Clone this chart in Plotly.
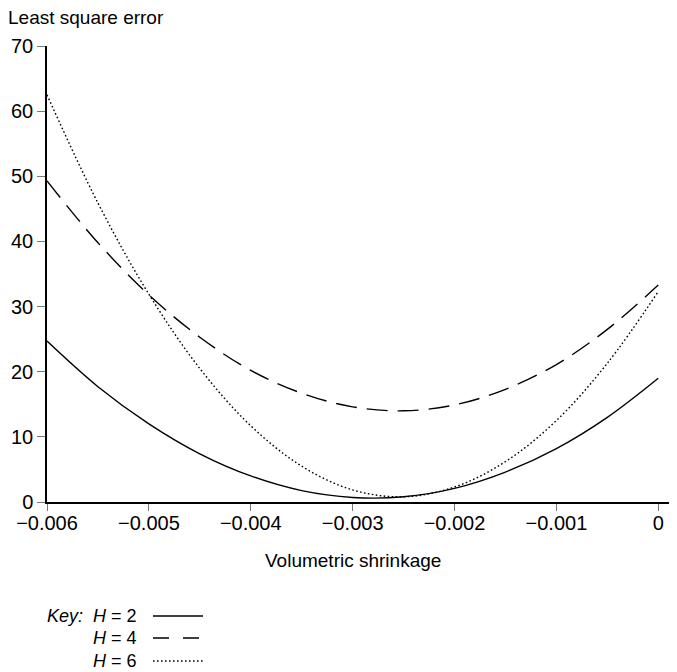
import plotly.graph_objects as go

# Data
shrinkage = [-0.006, -0.0055, -0.005, -0.0045, -0.004, -0.0035, -0.003,
             -0.0025, -0.002, -0.0015, -0.001, -0.0005, 0.0]
err_h2 = [24.7, 17.7, 12.0, 7.4, 4.0, 1.75, 0.7, 0.8, 2.1, 4.6, 8.2, 13.0, 19.0]
err_h4 = [49.3, 39.8, 31.8, 25.3, 20.2, 16.7, 14.6, 14.0, 14.9, 17.3, 21.1, 26.5, 33.3]
err_h6 = [62.5, 45.9, 31.9, 20.5, 11.7, 5.5, 1.85, 0.8, 2.3, 6.2, 12.5, 21.3, 32.3]

x_ticks = [-0.006, -0.005, -0.004, -0.003, -0.002, -0.001, 0]
x_ticklabels = ["−0.006", "−0.005", "−0.004", "−0.003", "−0.002", "−0.001", "0"]
y_ticks = [0, 10, 20, 30, 40, 50, 60, 70]

series = [
    ("H = 2", err_h2, "solid"),
    ("H = 4", err_h4, "21px,10px"),
    ("H = 6", err_h6, "1.6px,2.4px"),
]

FONT = "Liberation Sans, Arial, sans-serif"

# page body adds an 8px offset; compensate
W, H = 669, 664
L, T, B, R = 39, 38, 170, 0

fig = go.Figure()
for name, vals, dash in series:
    fig.add_trace(go.Scatter(
        x=shrinkage, y=vals, mode="lines", name=name,
        line=dict(color="black", width=1.4, dash=dash, shape="spline", smoothing=1.0),
        showlegend=False,
    ))

fig.update_layout(
    width=W, height=H,
    margin=dict(l=L, r=R, t=T, b=B),
    paper_bgcolor="white", plot_bgcolor="white",
    font=dict(family=FONT, size=20, color="black"),
)
fig.update_xaxes(
    range=[-0.006, 0.000184], tickvals=x_ticks, ticktext=x_ticklabels,
    showgrid=False, zeroline=False, showline=True, linecolor="black", linewidth=1.5,
    ticks="outside", ticklen=7, tickcolor="#777", tickwidth=1.2,
    tickfont=dict(family=FONT, size=20), ticklabelstandoff=-5,
)
fig.update_yaxes(
    range=[0, 70], tickvals=y_ticks,
    showgrid=False, zeroline=False, showline=True, linecolor="black", linewidth=1.5,
    ticks="outside", ticklen=8, tickcolor="#777", tickwidth=1.2,
    tickfont=dict(family=FONT, size=20),
)

# Axis titles
fig.add_annotation(text="Least square error", xref="paper", yref="paper",
                   x=0, y=1, xanchor="left", yanchor="middle",
                   xshift=-41, yshift=29, showarrow=False,
                   font=dict(family=FONT, size=19))
fig.add_annotation(text="Volumetric shrinkage", xref="x", yref="paper",
                   x=-0.003, y=0, xanchor="center", yanchor="middle",
                   yshift=-58, showarrow=False,
                   font=dict(family=FONT, size=19))

# Key
key_rows = [("<i>Key:</i>  <i>H</i> = 2", "solid", -114),
            ("<i>H</i> = 4", "16px,14px", -136),
            ("<i>H</i> = 6", "1.6px,2.4px", -159)]
plot_h = H - T - B
plot_w = W - L - R
for text, dash, shift in key_rows:
    fig.add_annotation(text=text, xref="paper", yref="paper",
                       x=(139 - 47) / plot_w, y=0, xanchor="right", yanchor="middle",
                       yshift=shift, showarrow=False,
                       font=dict(family=FONT, size=18))
    yy = shift / plot_h
    fig.add_shape(type="line", xref="paper", yref="paper",
                  x0=(153 - 47) / plot_w, x1=(203 - 47) / plot_w, y0=yy, y1=yy,
                  line=dict(color="black", width=1.4, dash=dash))

fig.write_html("out.html")
